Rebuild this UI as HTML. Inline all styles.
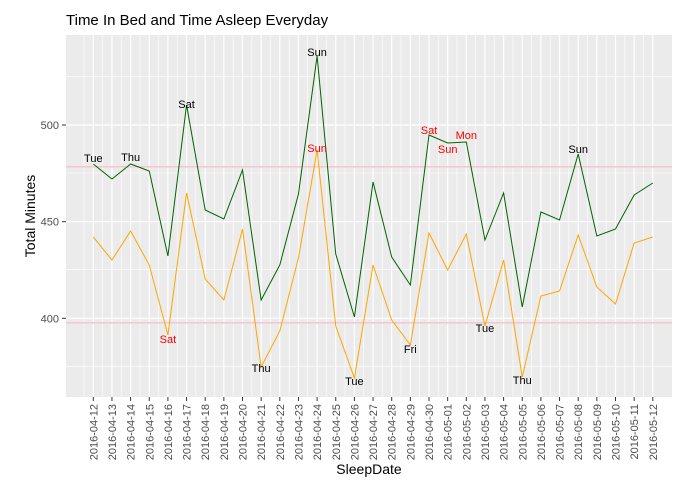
<!DOCTYPE html><html><head><meta charset="utf-8"><style>body{margin:0;background:#fff}svg{display:block;font-family:"Liberation Sans",sans-serif}</style></head><body>
<svg width="687" height="482" xmlns="http://www.w3.org/2000/svg">
<text x="66" y="25" font-size="15" fill="#000">Time In Bed and Time Asleep Everyday</text>
<rect x="66" y="35" width="606" height="362" fill="#ebebeb"/>
<g id="g"></g>
<script>
const NS="http://www.w3.org/2000/svg",g=document.getElementById('g');
function el(t,a,txt){const e=document.createElementNS(NS,t);for(const k in a)e.setAttribute(k,a[k]);if(txt)e.textContent=txt;g.appendChild(e);return e;}
const X=i=>93.3+18.65*i;
[173.0,269.7,366.3,76.3].forEach(y=>el('line',{x1:66,x2:672,y1:y,y2:y,stroke:'#fff','stroke-width':0.6}));
[125,221.7,318.3].forEach(y=>el('line',{x1:66,x2:672,y1:y,y2:y,stroke:'#fff','stroke-width':1.2}));
for(let i=0;i<31;i++){el('line',{x1:X(i),x2:X(i),y1:35,y2:397,stroke:'#fff','stroke-width':1.2});
 if(i<30)el('line',{x1:X(i+0.5),x2:X(i+0.5),y1:35,y2:397,stroke:'#fff','stroke-width':0.6});}
el('line',{x1:X(-0.5),x2:X(-0.5),y1:35,y2:397,stroke:'#fff','stroke-width':0.6});
el('line',{x1:66,x2:672,y1:166.7,y2:166.7,stroke:'#f5c6cf','stroke-width':1.5});
el('line',{x1:66,x2:672,y1:322.7,y2:322.7,stroke:'#f5c6cf','stroke-width':1.5});
const G=[164,179,164,171,256,105,210,219,170,300,265,194,56,254,317,182,257,285,135,143,142,240,193,307,212,220,154,236,229,195,183];
const O=[237,260,231,265,335,193,279,300,229,367,331,258,150,326,378,265,320,345,233,270,234,326,260,377,296,291,235,287,304,243,237];
el('polyline',{points:O.map((y,i)=>X(i)+','+y).join(' '),fill:'none',stroke:'#ffa500','stroke-width':1});
el('polyline',{points:G.map((y,i)=>X(i)+','+y).join(' '),fill:'none',stroke:'#006400','stroke-width':1});
const L=[[0,162,'Tue','#000'],[2,161,'Thu','#000'],[5,108,'Sat','#000'],[12,56,'Sun','#000'],[18,134,'Sat','red'],[19,153,'Sun','red'],[20,139,'Mon','red'],[26,153,'Sun','#000'],
[4,343,'Sat','red'],[9,372,'Thu','#000'],[12,152,'Sun','red'],[14,385,'Tue','#000'],[17,353,'Fri','#000'],[21,332,'Tue','#000'],[23,384,'Thu','#000']];
L.forEach(([i,y,t,c])=>el('text',{x:X(i),y:y,'font-size':11,fill:c,'text-anchor':'middle'},t));
[[125,'500'],[221.7,'450'],[318.3,'400']].forEach(([y,t])=>{el('line',{x1:62,x2:66,y1:y,y2:y,stroke:'#333'});el('text',{x:59,y:y+4,'font-size':11,fill:'#4d4d4d','text-anchor':'end'},t);});
for(let i=0;i<31;i++){const d=new Date(Date.UTC(2016,3,12+i));const s=d.toISOString().slice(0,10);
 el('line',{x1:X(i),x2:X(i),y1:397,y2:401,stroke:'#333'});
 el('text',{x:0,y:0,'font-size':11,fill:'#4d4d4d','text-anchor':'end',transform:`translate(${X(i)+4},404) rotate(-90)`},s);}
el('text',{x:369,y:474,'font-size':14,fill:'#000','text-anchor':'middle'},'SleepDate');
el('text',{x:0,y:0,'font-size':14,fill:'#000','text-anchor':'middle',transform:'translate(35,216) rotate(-90)'},'Total Minutes');
</script>
</svg></body></html>
